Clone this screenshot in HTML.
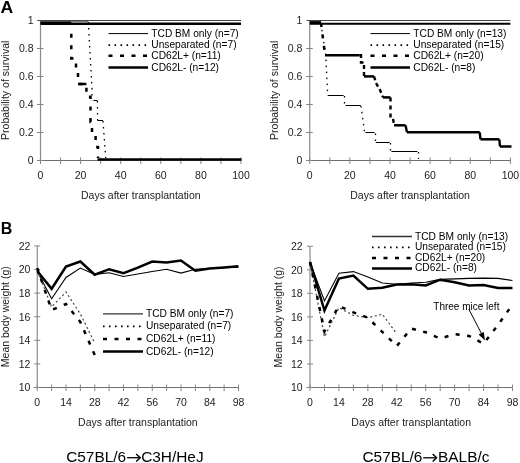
<!DOCTYPE html>
<html><head><meta charset="utf-8"><style>
html,body{margin:0;padding:0;background:#fff;}
svg{display:block;will-change:transform;}
text{font-family:"Liberation Sans", sans-serif;}
</style></head><body>
<svg width="520" height="463" viewBox="0 0 520 463">
<rect width="520" height="463" fill="#fff"/>
<line x1="40.50" y1="20.50" x2="40.50" y2="161.00" stroke="#8a8a8a" stroke-width="1.2" stroke-linecap="butt"/>
<line x1="37.00" y1="160.50" x2="241.00" y2="160.50" stroke="#707070" stroke-width="1" stroke-linecap="butt"/>
<line x1="37.00" y1="160.50" x2="43.50" y2="160.50" stroke="#858585" stroke-width="1" stroke-linecap="butt"/>
<text x="33.60" y="164.30" font-size="10.5" text-anchor="end" font-weight="normal" fill="#222">0</text>
<line x1="37.00" y1="132.50" x2="43.50" y2="132.50" stroke="#858585" stroke-width="1" stroke-linecap="butt"/>
<text x="33.60" y="136.30" font-size="10.5" text-anchor="end" font-weight="normal" fill="#222">0.2</text>
<line x1="37.00" y1="104.50" x2="43.50" y2="104.50" stroke="#858585" stroke-width="1" stroke-linecap="butt"/>
<text x="33.60" y="108.30" font-size="10.5" text-anchor="end" font-weight="normal" fill="#222">0.4</text>
<line x1="37.00" y1="76.50" x2="43.50" y2="76.50" stroke="#858585" stroke-width="1" stroke-linecap="butt"/>
<text x="33.60" y="80.30" font-size="10.5" text-anchor="end" font-weight="normal" fill="#222">0.6</text>
<line x1="37.00" y1="48.50" x2="43.50" y2="48.50" stroke="#858585" stroke-width="1" stroke-linecap="butt"/>
<text x="33.60" y="52.30" font-size="10.5" text-anchor="end" font-weight="normal" fill="#222">0.8</text>
<line x1="37.00" y1="20.50" x2="43.50" y2="20.50" stroke="#858585" stroke-width="1" stroke-linecap="butt"/>
<text x="33.60" y="24.30" font-size="10.5" text-anchor="end" font-weight="normal" fill="#222">1</text>
<line x1="40.50" y1="157.50" x2="40.50" y2="164.00" stroke="#858585" stroke-width="1" stroke-linecap="butt"/>
<text x="40.50" y="178.80" font-size="10.5" text-anchor="middle" font-weight="normal" fill="#222">0</text>
<line x1="60.55" y1="157.50" x2="60.55" y2="164.00" stroke="#858585" stroke-width="1" stroke-linecap="butt"/>
<line x1="80.60" y1="157.50" x2="80.60" y2="164.00" stroke="#858585" stroke-width="1" stroke-linecap="butt"/>
<text x="80.60" y="178.80" font-size="10.5" text-anchor="middle" font-weight="normal" fill="#222">20</text>
<line x1="100.65" y1="157.50" x2="100.65" y2="164.00" stroke="#858585" stroke-width="1" stroke-linecap="butt"/>
<line x1="120.70" y1="157.50" x2="120.70" y2="164.00" stroke="#858585" stroke-width="1" stroke-linecap="butt"/>
<text x="120.70" y="178.80" font-size="10.5" text-anchor="middle" font-weight="normal" fill="#222">40</text>
<line x1="140.75" y1="157.50" x2="140.75" y2="164.00" stroke="#858585" stroke-width="1" stroke-linecap="butt"/>
<line x1="160.80" y1="157.50" x2="160.80" y2="164.00" stroke="#858585" stroke-width="1" stroke-linecap="butt"/>
<text x="160.80" y="178.80" font-size="10.5" text-anchor="middle" font-weight="normal" fill="#222">60</text>
<line x1="180.85" y1="157.50" x2="180.85" y2="164.00" stroke="#858585" stroke-width="1" stroke-linecap="butt"/>
<line x1="200.90" y1="157.50" x2="200.90" y2="164.00" stroke="#858585" stroke-width="1" stroke-linecap="butt"/>
<text x="200.90" y="178.80" font-size="10.5" text-anchor="middle" font-weight="normal" fill="#222">80</text>
<line x1="220.95" y1="157.50" x2="220.95" y2="164.00" stroke="#858585" stroke-width="1" stroke-linecap="butt"/>
<line x1="241.00" y1="157.50" x2="241.00" y2="164.00" stroke="#858585" stroke-width="1" stroke-linecap="butt"/>
<text x="241.00" y="178.80" font-size="10.5" text-anchor="middle" font-weight="normal" fill="#222">100</text>
<text x="140.80" y="198.80" font-size="10.5" text-anchor="middle" font-weight="normal" fill="#222">Days after transplantation</text>
<text x="9.40" y="90.30" font-size="10.5" text-anchor="middle" font-weight="normal" fill="#222" transform="rotate(-90 9.40 90.30)">Probability of survival</text>
<line x1="108.50" y1="33.60" x2="148.00" y2="33.60" stroke="#000" stroke-width="1.0" stroke-linecap="butt"/>
<line x1="108.50" y1="45.10" x2="148.00" y2="45.10" stroke="#000" stroke-width="1.6" stroke-dasharray="1.6 4.4" stroke-linecap="butt"/>
<line x1="108.50" y1="55.80" x2="148.00" y2="55.80" stroke="#000" stroke-width="2.5" stroke-dasharray="4 7.5" stroke-linecap="butt"/>
<line x1="108.50" y1="67.50" x2="148.00" y2="67.50" stroke="#000" stroke-width="2.5" stroke-linecap="butt"/>
<text x="151.30" y="36.60" font-size="10.2" text-anchor="start" font-weight="normal" fill="#000">TCD BM only (n=7)</text>
<text x="151.30" y="48.10" font-size="10.2" text-anchor="start" font-weight="normal" fill="#000">Unseparated (n=7)</text>
<text x="151.30" y="58.80" font-size="10.2" text-anchor="start" font-weight="normal" fill="#000">CD62L+ (n=11)</text>
<text x="151.30" y="70.50" font-size="10.2" text-anchor="start" font-weight="normal" fill="#000">CD62L- (n=12)</text>
<line x1="309.75" y1="20.50" x2="309.75" y2="161.00" stroke="#8a8a8a" stroke-width="1.2" stroke-linecap="butt"/>
<line x1="306.25" y1="160.50" x2="510.40" y2="160.50" stroke="#707070" stroke-width="1" stroke-linecap="butt"/>
<line x1="306.25" y1="160.50" x2="312.75" y2="160.50" stroke="#858585" stroke-width="1" stroke-linecap="butt"/>
<text x="302.40" y="164.30" font-size="10.5" text-anchor="end" font-weight="normal" fill="#222">0</text>
<line x1="306.25" y1="132.50" x2="312.75" y2="132.50" stroke="#858585" stroke-width="1" stroke-linecap="butt"/>
<text x="302.40" y="136.30" font-size="10.5" text-anchor="end" font-weight="normal" fill="#222">0.2</text>
<line x1="306.25" y1="104.50" x2="312.75" y2="104.50" stroke="#858585" stroke-width="1" stroke-linecap="butt"/>
<text x="302.40" y="108.30" font-size="10.5" text-anchor="end" font-weight="normal" fill="#222">0.4</text>
<line x1="306.25" y1="76.50" x2="312.75" y2="76.50" stroke="#858585" stroke-width="1" stroke-linecap="butt"/>
<text x="302.40" y="80.30" font-size="10.5" text-anchor="end" font-weight="normal" fill="#222">0.6</text>
<line x1="306.25" y1="48.50" x2="312.75" y2="48.50" stroke="#858585" stroke-width="1" stroke-linecap="butt"/>
<text x="302.40" y="52.30" font-size="10.5" text-anchor="end" font-weight="normal" fill="#222">0.8</text>
<line x1="306.25" y1="20.50" x2="312.75" y2="20.50" stroke="#858585" stroke-width="1" stroke-linecap="butt"/>
<text x="302.40" y="24.30" font-size="10.5" text-anchor="end" font-weight="normal" fill="#222">1</text>
<line x1="309.75" y1="157.50" x2="309.75" y2="164.00" stroke="#858585" stroke-width="1" stroke-linecap="butt"/>
<text x="309.75" y="178.80" font-size="10.5" text-anchor="middle" font-weight="normal" fill="#222">0</text>
<line x1="329.81" y1="157.50" x2="329.81" y2="164.00" stroke="#858585" stroke-width="1" stroke-linecap="butt"/>
<line x1="349.88" y1="157.50" x2="349.88" y2="164.00" stroke="#858585" stroke-width="1" stroke-linecap="butt"/>
<text x="349.88" y="178.80" font-size="10.5" text-anchor="middle" font-weight="normal" fill="#222">20</text>
<line x1="369.94" y1="157.50" x2="369.94" y2="164.00" stroke="#858585" stroke-width="1" stroke-linecap="butt"/>
<line x1="390.01" y1="157.50" x2="390.01" y2="164.00" stroke="#858585" stroke-width="1" stroke-linecap="butt"/>
<text x="390.01" y="178.80" font-size="10.5" text-anchor="middle" font-weight="normal" fill="#222">40</text>
<line x1="410.07" y1="157.50" x2="410.07" y2="164.00" stroke="#858585" stroke-width="1" stroke-linecap="butt"/>
<line x1="430.14" y1="157.50" x2="430.14" y2="164.00" stroke="#858585" stroke-width="1" stroke-linecap="butt"/>
<text x="430.14" y="178.80" font-size="10.5" text-anchor="middle" font-weight="normal" fill="#222">60</text>
<line x1="450.20" y1="157.50" x2="450.20" y2="164.00" stroke="#858585" stroke-width="1" stroke-linecap="butt"/>
<line x1="470.27" y1="157.50" x2="470.27" y2="164.00" stroke="#858585" stroke-width="1" stroke-linecap="butt"/>
<text x="470.27" y="178.80" font-size="10.5" text-anchor="middle" font-weight="normal" fill="#222">80</text>
<line x1="490.34" y1="157.50" x2="490.34" y2="164.00" stroke="#858585" stroke-width="1" stroke-linecap="butt"/>
<line x1="510.40" y1="157.50" x2="510.40" y2="164.00" stroke="#858585" stroke-width="1" stroke-linecap="butt"/>
<text x="510.40" y="178.80" font-size="10.5" text-anchor="middle" font-weight="normal" fill="#222">100</text>
<text x="410.10" y="198.80" font-size="10.5" text-anchor="middle" font-weight="normal" fill="#222">Days after transplantation</text>
<text x="278.20" y="90.30" font-size="10.5" text-anchor="middle" font-weight="normal" fill="#222" transform="rotate(-90 278.20 90.30)">Probability of survival</text>
<line x1="370.50" y1="33.60" x2="410.00" y2="33.60" stroke="#000" stroke-width="1.0" stroke-linecap="butt"/>
<line x1="370.50" y1="45.10" x2="410.00" y2="45.10" stroke="#000" stroke-width="1.6" stroke-dasharray="1.6 4.4" stroke-linecap="butt"/>
<line x1="370.50" y1="55.80" x2="410.00" y2="55.80" stroke="#000" stroke-width="2.5" stroke-dasharray="4 7.5" stroke-linecap="butt"/>
<line x1="370.50" y1="67.50" x2="410.00" y2="67.50" stroke="#000" stroke-width="2.5" stroke-linecap="butt"/>
<text x="413.30" y="36.60" font-size="10.2" text-anchor="start" font-weight="normal" fill="#000">TCD BM only (n=13)</text>
<text x="413.30" y="48.10" font-size="10.2" text-anchor="start" font-weight="normal" fill="#000">Unseparated (n=15)</text>
<text x="413.30" y="58.80" font-size="10.2" text-anchor="start" font-weight="normal" fill="#000">CD62L+ (n=20)</text>
<text x="413.30" y="70.50" font-size="10.2" text-anchor="start" font-weight="normal" fill="#000">CD62L- (n=8)</text>
<line x1="38.00" y1="20.50" x2="241.00" y2="20.50" stroke="#444" stroke-width="1.0" stroke-linecap="butt"/>
<line x1="40.50" y1="23.80" x2="241.00" y2="23.80" stroke="#000" stroke-width="2.4" stroke-linecap="butt"/>
<line x1="40.50" y1="22.60" x2="71.30" y2="22.60" stroke="#000" stroke-width="2.6" stroke-linecap="butt"/>
<line x1="71.00" y1="21.60" x2="88.30" y2="21.60" stroke="#777" stroke-width="1" stroke-linecap="butt"/>
<polyline points="71.30,26.30 71.30,58.60 76.00,58.60 76.00,71.30 78.00,71.30 78.00,84.00 86.40,84.00 86.40,96.70 90.50,96.70 90.50,122.00 92.00,122.00 92.00,134.30 95.60,134.30 95.60,147.00 98.00,147.00 98.00,158.00" fill="none" stroke="#000" stroke-width="2.5" stroke-dasharray="4 7.5" stroke-dashoffset="-7.5" stroke-linejoin="miter" stroke-linecap="butt"/>
<line x1="78.00" y1="84.00" x2="86.40" y2="84.00" stroke="#000" stroke-width="2.5" stroke-linecap="butt"/>
<line x1="97.50" y1="159.50" x2="241.50" y2="159.50" stroke="#000" stroke-width="2.5" stroke-linecap="butt"/>
<polyline points="88.30,22.00 92.00,88.00 92.00,100.30" fill="none" stroke="#000" stroke-width="1.3" stroke-dasharray="1.5 4.5" stroke-linejoin="miter" stroke-linecap="butt"/>
<line x1="93.50" y1="100.50" x2="97.40" y2="100.50" stroke="#000" stroke-width="1" stroke-linecap="butt"/>
<polyline points="97.40,101.00 97.60,120.50" fill="none" stroke="#000" stroke-width="1.3" stroke-dasharray="1.5 4.5" stroke-linejoin="miter" stroke-linecap="butt"/>
<line x1="97.60" y1="120.50" x2="103.00" y2="120.50" stroke="#000" stroke-width="1" stroke-linecap="butt"/>
<polyline points="103.00,121.00 105.70,158.00" fill="none" stroke="#000" stroke-width="1.3" stroke-dasharray="1.5 4.5" stroke-linejoin="miter" stroke-linecap="butt"/>
<line x1="307.00" y1="20.50" x2="510.40" y2="20.50" stroke="#444" stroke-width="1.0" stroke-linecap="butt"/>
<line x1="309.75" y1="23.70" x2="510.40" y2="23.70" stroke="#000" stroke-width="2.1" stroke-linecap="butt"/>
<line x1="309.75" y1="22.60" x2="321.00" y2="22.60" stroke="#000" stroke-width="3.0" stroke-linecap="butt"/>
<polyline points="321.00,23.00 325.00,54.70" fill="none" stroke="#000" stroke-width="2.5" stroke-dasharray="4 7.5" stroke-linejoin="miter" stroke-linecap="butt"/>
<line x1="325.00" y1="55.20" x2="359.80" y2="55.20" stroke="#000" stroke-width="2.5" stroke-linecap="butt"/>
<polyline points="359.80,55.20 361.00,55.20 361.00,62.50 364.00,62.50 364.00,76.40" fill="none" stroke="#000" stroke-width="2.4" stroke-dasharray="4 3" stroke-linejoin="miter" stroke-linecap="butt"/>
<line x1="364.00" y1="76.40" x2="374.00" y2="76.40" stroke="#000" stroke-width="2.5" stroke-linecap="butt"/>
<polyline points="374.00,76.40 376.00,83.00 380.00,90.00 383.00,97.40" fill="none" stroke="#000" stroke-width="2.4" stroke-dasharray="4 3" stroke-linejoin="miter" stroke-linecap="butt"/>
<line x1="383.00" y1="97.40" x2="390.50" y2="97.40" stroke="#000" stroke-width="2.5" stroke-linecap="butt"/>
<polyline points="390.50,97.40 390.50,118.30 393.00,118.30 394.00,125.30" fill="none" stroke="#000" stroke-width="2.4" stroke-dasharray="4 4" stroke-linejoin="miter" stroke-linecap="butt"/>
<line x1="394.00" y1="125.30" x2="405.50" y2="125.30" stroke="#000" stroke-width="2.5" stroke-linecap="butt"/>
<line x1="405.50" y1="125.30" x2="407.00" y2="132.30" stroke="#000" stroke-width="2.4" stroke-linecap="butt"/>
<line x1="407.00" y1="132.30" x2="479.70" y2="132.30" stroke="#000" stroke-width="2.5" stroke-linecap="butt"/>
<line x1="479.70" y1="132.30" x2="480.50" y2="139.30" stroke="#000" stroke-width="2.4" stroke-linecap="butt"/>
<line x1="480.50" y1="139.30" x2="499.30" y2="139.30" stroke="#000" stroke-width="2.5" stroke-linecap="butt"/>
<line x1="499.30" y1="139.30" x2="500.00" y2="146.50" stroke="#000" stroke-width="2.4" stroke-linecap="butt"/>
<line x1="500.00" y1="146.50" x2="511.50" y2="146.50" stroke="#000" stroke-width="2.5" stroke-linecap="butt"/>
<polyline points="321.00,24.00 325.70,55.00 327.70,95.00" fill="none" stroke="#000" stroke-width="1.3" stroke-dasharray="1.5 4.5" stroke-linejoin="miter" stroke-linecap="butt"/>
<line x1="327.70" y1="95.50" x2="343.60" y2="95.50" stroke="#000" stroke-width="1" stroke-linecap="butt"/>
<polyline points="344.50,96.00 344.50,104.50" fill="none" stroke="#000" stroke-width="1.3" stroke-dasharray="1.5 4.5" stroke-linejoin="miter" stroke-linecap="butt"/>
<line x1="345.50" y1="105.50" x2="360.80" y2="105.50" stroke="#000" stroke-width="1" stroke-linecap="butt"/>
<polyline points="361.00,106.00 364.60,132.50" fill="none" stroke="#000" stroke-width="1.3" stroke-dasharray="1.5 4.5" stroke-linejoin="miter" stroke-linecap="butt"/>
<line x1="365.50" y1="132.50" x2="374.60" y2="132.50" stroke="#000" stroke-width="1" stroke-linecap="butt"/>
<polyline points="375.50,133.50 375.50,142.00" fill="none" stroke="#000" stroke-width="1.3" stroke-dasharray="1.5 4.5" stroke-linejoin="miter" stroke-linecap="butt"/>
<line x1="375.80" y1="142.50" x2="389.70" y2="142.50" stroke="#000" stroke-width="1" stroke-linecap="butt"/>
<polyline points="390.50,143.00 390.50,151.00" fill="none" stroke="#000" stroke-width="1.3" stroke-dasharray="1.5 4.5" stroke-linejoin="miter" stroke-linecap="butt"/>
<line x1="391.40" y1="151.50" x2="417.40" y2="151.50" stroke="#000" stroke-width="1" stroke-linecap="butt"/>
<polyline points="418.50,152.00 418.50,159.00" fill="none" stroke="#000" stroke-width="1.3" stroke-dasharray="1.5 4.5" stroke-linejoin="miter" stroke-linecap="butt"/>
<line x1="37.25" y1="245.90" x2="37.25" y2="388.00" stroke="#8a8a8a" stroke-width="1.2" stroke-linecap="butt"/>
<line x1="33.75" y1="387.50" x2="238.50" y2="387.50" stroke="#707070" stroke-width="1" stroke-linecap="butt"/>
<line x1="34.25" y1="387.50" x2="40.25" y2="387.50" stroke="#858585" stroke-width="1" stroke-linecap="butt"/>
<text x="30.40" y="391.30" font-size="10.5" text-anchor="end" font-weight="normal" fill="#222">10</text>
<line x1="34.25" y1="363.90" x2="40.25" y2="363.90" stroke="#858585" stroke-width="1" stroke-linecap="butt"/>
<text x="30.40" y="367.70" font-size="10.5" text-anchor="end" font-weight="normal" fill="#222">12</text>
<line x1="34.25" y1="340.30" x2="40.25" y2="340.30" stroke="#858585" stroke-width="1" stroke-linecap="butt"/>
<text x="30.40" y="344.10" font-size="10.5" text-anchor="end" font-weight="normal" fill="#222">14</text>
<line x1="34.25" y1="316.70" x2="40.25" y2="316.70" stroke="#858585" stroke-width="1" stroke-linecap="butt"/>
<text x="30.40" y="320.50" font-size="10.5" text-anchor="end" font-weight="normal" fill="#222">16</text>
<line x1="34.25" y1="293.10" x2="40.25" y2="293.10" stroke="#858585" stroke-width="1" stroke-linecap="butt"/>
<text x="30.40" y="296.90" font-size="10.5" text-anchor="end" font-weight="normal" fill="#222">18</text>
<line x1="34.25" y1="269.50" x2="40.25" y2="269.50" stroke="#858585" stroke-width="1" stroke-linecap="butt"/>
<text x="30.40" y="273.30" font-size="10.5" text-anchor="end" font-weight="normal" fill="#222">20</text>
<line x1="34.25" y1="245.90" x2="40.25" y2="245.90" stroke="#858585" stroke-width="1" stroke-linecap="butt"/>
<text x="30.40" y="249.70" font-size="10.5" text-anchor="end" font-weight="normal" fill="#222">22</text>
<line x1="37.25" y1="384.50" x2="37.25" y2="391.00" stroke="#858585" stroke-width="1" stroke-linecap="butt"/>
<text x="37.25" y="405.90" font-size="10.5" text-anchor="middle" font-weight="normal" fill="#222">0</text>
<line x1="51.62" y1="384.50" x2="51.62" y2="391.00" stroke="#858585" stroke-width="1" stroke-linecap="butt"/>
<line x1="66.00" y1="384.50" x2="66.00" y2="391.00" stroke="#858585" stroke-width="1" stroke-linecap="butt"/>
<text x="66.00" y="405.90" font-size="10.5" text-anchor="middle" font-weight="normal" fill="#222">14</text>
<line x1="80.38" y1="384.50" x2="80.38" y2="391.00" stroke="#858585" stroke-width="1" stroke-linecap="butt"/>
<line x1="94.75" y1="384.50" x2="94.75" y2="391.00" stroke="#858585" stroke-width="1" stroke-linecap="butt"/>
<text x="94.75" y="405.90" font-size="10.5" text-anchor="middle" font-weight="normal" fill="#222">28</text>
<line x1="109.12" y1="384.50" x2="109.12" y2="391.00" stroke="#858585" stroke-width="1" stroke-linecap="butt"/>
<line x1="123.50" y1="384.50" x2="123.50" y2="391.00" stroke="#858585" stroke-width="1" stroke-linecap="butt"/>
<text x="123.50" y="405.90" font-size="10.5" text-anchor="middle" font-weight="normal" fill="#222">42</text>
<line x1="137.88" y1="384.50" x2="137.88" y2="391.00" stroke="#858585" stroke-width="1" stroke-linecap="butt"/>
<line x1="152.25" y1="384.50" x2="152.25" y2="391.00" stroke="#858585" stroke-width="1" stroke-linecap="butt"/>
<text x="152.25" y="405.90" font-size="10.5" text-anchor="middle" font-weight="normal" fill="#222">56</text>
<line x1="166.62" y1="384.50" x2="166.62" y2="391.00" stroke="#858585" stroke-width="1" stroke-linecap="butt"/>
<line x1="181.00" y1="384.50" x2="181.00" y2="391.00" stroke="#858585" stroke-width="1" stroke-linecap="butt"/>
<text x="181.00" y="405.90" font-size="10.5" text-anchor="middle" font-weight="normal" fill="#222">70</text>
<line x1="195.37" y1="384.50" x2="195.37" y2="391.00" stroke="#858585" stroke-width="1" stroke-linecap="butt"/>
<line x1="209.75" y1="384.50" x2="209.75" y2="391.00" stroke="#858585" stroke-width="1" stroke-linecap="butt"/>
<text x="209.75" y="405.90" font-size="10.5" text-anchor="middle" font-weight="normal" fill="#222">84</text>
<line x1="224.12" y1="384.50" x2="224.12" y2="391.00" stroke="#858585" stroke-width="1" stroke-linecap="butt"/>
<line x1="238.50" y1="384.50" x2="238.50" y2="391.00" stroke="#858585" stroke-width="1" stroke-linecap="butt"/>
<text x="238.50" y="405.90" font-size="10.5" text-anchor="middle" font-weight="normal" fill="#222">98</text>
<text x="137.90" y="425.90" font-size="10.5" text-anchor="middle" font-weight="normal" fill="#222">Days after transplantation</text>
<text x="9.00" y="316.70" font-size="10.5" text-anchor="middle" font-weight="normal" fill="#222" transform="rotate(-90 9.00 316.70)">Mean body weight (g)</text>
<line x1="103.00" y1="313.80" x2="143.00" y2="313.80" stroke="#333" stroke-width="1.3" stroke-linecap="butt"/>
<line x1="103.00" y1="326.40" x2="143.00" y2="326.40" stroke="#000" stroke-width="1.6" stroke-dasharray="1.6 4.4" stroke-linecap="butt"/>
<line x1="103.00" y1="339.00" x2="143.00" y2="339.00" stroke="#000" stroke-width="2.5" stroke-dasharray="4 7.5" stroke-linecap="butt"/>
<line x1="103.00" y1="351.60" x2="143.00" y2="351.60" stroke="#000" stroke-width="2.5" stroke-linecap="butt"/>
<text x="146.00" y="316.80" font-size="10.2" text-anchor="start" font-weight="normal" fill="#000">TCD BM only (n=7)</text>
<text x="146.00" y="329.40" font-size="10.2" text-anchor="start" font-weight="normal" fill="#000">Unseparated (n=7)</text>
<text x="146.00" y="342.00" font-size="10.2" text-anchor="start" font-weight="normal" fill="#000">CD62L+ (n=11)</text>
<text x="146.00" y="354.60" font-size="10.2" text-anchor="start" font-weight="normal" fill="#000">CD62L- (n=12)</text>
<line x1="310.00" y1="246.25" x2="310.00" y2="388.00" stroke="#8a8a8a" stroke-width="1.2" stroke-linecap="butt"/>
<line x1="306.50" y1="387.50" x2="512.50" y2="387.50" stroke="#707070" stroke-width="1" stroke-linecap="butt"/>
<line x1="307.00" y1="387.50" x2="313.00" y2="387.50" stroke="#858585" stroke-width="1" stroke-linecap="butt"/>
<text x="302.60" y="391.30" font-size="10.5" text-anchor="end" font-weight="normal" fill="#222">10</text>
<line x1="307.00" y1="363.96" x2="313.00" y2="363.96" stroke="#858585" stroke-width="1" stroke-linecap="butt"/>
<text x="302.60" y="367.76" font-size="10.5" text-anchor="end" font-weight="normal" fill="#222">12</text>
<line x1="307.00" y1="340.42" x2="313.00" y2="340.42" stroke="#858585" stroke-width="1" stroke-linecap="butt"/>
<text x="302.60" y="344.22" font-size="10.5" text-anchor="end" font-weight="normal" fill="#222">14</text>
<line x1="307.00" y1="316.88" x2="313.00" y2="316.88" stroke="#858585" stroke-width="1" stroke-linecap="butt"/>
<text x="302.60" y="320.68" font-size="10.5" text-anchor="end" font-weight="normal" fill="#222">16</text>
<line x1="307.00" y1="293.33" x2="313.00" y2="293.33" stroke="#858585" stroke-width="1" stroke-linecap="butt"/>
<text x="302.60" y="297.13" font-size="10.5" text-anchor="end" font-weight="normal" fill="#222">18</text>
<line x1="307.00" y1="269.79" x2="313.00" y2="269.79" stroke="#858585" stroke-width="1" stroke-linecap="butt"/>
<text x="302.60" y="273.59" font-size="10.5" text-anchor="end" font-weight="normal" fill="#222">20</text>
<line x1="307.00" y1="246.25" x2="313.00" y2="246.25" stroke="#858585" stroke-width="1" stroke-linecap="butt"/>
<text x="302.60" y="250.05" font-size="10.5" text-anchor="end" font-weight="normal" fill="#222">22</text>
<line x1="310.00" y1="384.50" x2="310.00" y2="391.00" stroke="#858585" stroke-width="1" stroke-linecap="butt"/>
<text x="310.00" y="405.90" font-size="10.5" text-anchor="middle" font-weight="normal" fill="#222">0</text>
<line x1="324.46" y1="384.50" x2="324.46" y2="391.00" stroke="#858585" stroke-width="1" stroke-linecap="butt"/>
<line x1="338.93" y1="384.50" x2="338.93" y2="391.00" stroke="#858585" stroke-width="1" stroke-linecap="butt"/>
<text x="338.93" y="405.90" font-size="10.5" text-anchor="middle" font-weight="normal" fill="#222">14</text>
<line x1="353.39" y1="384.50" x2="353.39" y2="391.00" stroke="#858585" stroke-width="1" stroke-linecap="butt"/>
<line x1="367.86" y1="384.50" x2="367.86" y2="391.00" stroke="#858585" stroke-width="1" stroke-linecap="butt"/>
<text x="367.86" y="405.90" font-size="10.5" text-anchor="middle" font-weight="normal" fill="#222">28</text>
<line x1="382.32" y1="384.50" x2="382.32" y2="391.00" stroke="#858585" stroke-width="1" stroke-linecap="butt"/>
<line x1="396.79" y1="384.50" x2="396.79" y2="391.00" stroke="#858585" stroke-width="1" stroke-linecap="butt"/>
<text x="396.79" y="405.90" font-size="10.5" text-anchor="middle" font-weight="normal" fill="#222">42</text>
<line x1="411.25" y1="384.50" x2="411.25" y2="391.00" stroke="#858585" stroke-width="1" stroke-linecap="butt"/>
<line x1="425.71" y1="384.50" x2="425.71" y2="391.00" stroke="#858585" stroke-width="1" stroke-linecap="butt"/>
<text x="425.71" y="405.90" font-size="10.5" text-anchor="middle" font-weight="normal" fill="#222">56</text>
<line x1="440.18" y1="384.50" x2="440.18" y2="391.00" stroke="#858585" stroke-width="1" stroke-linecap="butt"/>
<line x1="454.64" y1="384.50" x2="454.64" y2="391.00" stroke="#858585" stroke-width="1" stroke-linecap="butt"/>
<text x="454.64" y="405.90" font-size="10.5" text-anchor="middle" font-weight="normal" fill="#222">70</text>
<line x1="469.11" y1="384.50" x2="469.11" y2="391.00" stroke="#858585" stroke-width="1" stroke-linecap="butt"/>
<line x1="483.57" y1="384.50" x2="483.57" y2="391.00" stroke="#858585" stroke-width="1" stroke-linecap="butt"/>
<text x="483.57" y="405.90" font-size="10.5" text-anchor="middle" font-weight="normal" fill="#222">84</text>
<line x1="498.04" y1="384.50" x2="498.04" y2="391.00" stroke="#858585" stroke-width="1" stroke-linecap="butt"/>
<line x1="512.50" y1="384.50" x2="512.50" y2="391.00" stroke="#858585" stroke-width="1" stroke-linecap="butt"/>
<text x="512.50" y="405.90" font-size="10.5" text-anchor="middle" font-weight="normal" fill="#222">98</text>
<text x="411.20" y="425.90" font-size="10.5" text-anchor="middle" font-weight="normal" fill="#222">Days after transplantation</text>
<text x="281.60" y="316.88" font-size="10.5" text-anchor="middle" font-weight="normal" fill="#222" transform="rotate(-90 281.60 316.88)">Mean body weight (g)</text>
<line x1="372.00" y1="236.50" x2="412.00" y2="236.50" stroke="#333" stroke-width="1.3" stroke-linecap="butt"/>
<line x1="372.00" y1="247.40" x2="412.00" y2="247.40" stroke="#000" stroke-width="1.6" stroke-dasharray="1.6 4.4" stroke-linecap="butt"/>
<line x1="372.00" y1="257.90" x2="412.00" y2="257.90" stroke="#000" stroke-width="2.5" stroke-dasharray="4 7.5" stroke-linecap="butt"/>
<line x1="372.00" y1="268.40" x2="412.00" y2="268.40" stroke="#000" stroke-width="2.5" stroke-linecap="butt"/>
<text x="415.00" y="239.50" font-size="10.2" text-anchor="start" font-weight="normal" fill="#000">TCD BM only (n=13)</text>
<text x="415.00" y="250.40" font-size="10.2" text-anchor="start" font-weight="normal" fill="#000">Unseparated (n=15)</text>
<text x="415.00" y="260.90" font-size="10.2" text-anchor="start" font-weight="normal" fill="#000">CD62L+ (n=20)</text>
<text x="415.00" y="271.40" font-size="10.2" text-anchor="start" font-weight="normal" fill="#000">CD62L- (n=8)</text>
<polyline points="37.25,271.50 51.62,298.75 65.99,277.50 80.36,268.10 94.73,274.40 109.11,272.70 123.48,276.50 137.85,274.00 152.22,271.50 166.59,269.20 180.96,273.10 195.33,269.20 209.70,268.20 224.07,267.70 238.44,267.20" fill="none" stroke="#000" stroke-width="1.1" stroke-linejoin="miter" stroke-linecap="butt"/>
<polyline points="37.25,271.00 51.62,288.75 65.99,266.50 80.36,261.50 94.73,274.70 109.11,269.20 123.48,273.10 137.85,267.70 152.22,261.50 166.59,262.50 180.96,260.50 195.33,270.80 209.70,268.50 224.07,267.40 238.44,266.20" fill="none" stroke="#000" stroke-width="2.5" stroke-linejoin="miter" stroke-linecap="butt"/>
<polyline points="37.25,270.00 51.62,307.00 65.99,292.00 80.36,314.00 94.73,343.00" fill="none" stroke="#444" stroke-width="1.2" stroke-dasharray="2 2.6" stroke-linejoin="miter" stroke-linecap="butt"/>
<polyline points="37.25,268.00 51.62,310.00 65.99,304.00 80.36,322.00 94.73,355.00" fill="none" stroke="#000" stroke-width="2.5" stroke-dasharray="4 7.5" stroke-linejoin="miter" stroke-linecap="butt"/>
<polyline points="310.00,262.00 324.46,301.00 338.92,273.30 353.39,271.60 367.85,277.00 382.31,283.00 396.77,284.20 411.23,283.00 425.70,282.30 440.16,279.40 454.62,278.90 469.08,278.40 483.54,278.10 498.01,278.40 512.47,280.50" fill="none" stroke="#000" stroke-width="1.1" stroke-linejoin="miter" stroke-linecap="butt"/>
<polyline points="310.00,262.00 324.46,310.50 338.92,278.50 353.39,275.60 367.85,288.80 382.31,287.70 396.77,284.60 411.23,284.20 425.70,285.40 440.16,279.70 454.62,282.20 469.08,285.40 483.54,285.00 498.01,287.90 512.47,287.90" fill="none" stroke="#000" stroke-width="2.5" stroke-linejoin="miter" stroke-linecap="butt"/>
<polyline points="310.00,262.00 324.46,337.00 338.92,307.70 353.39,315.40 367.85,317.70 382.31,314.20 396.77,333.80" fill="none" stroke="#444" stroke-width="1.2" stroke-dasharray="2 2.6" stroke-linejoin="miter" stroke-linecap="butt"/>
<polyline points="310.00,262.00 324.46,331.50 338.92,306.00 353.39,312.30 367.85,317.70 396.77,346.00 411.23,328.50 425.70,332.30 440.16,338.50 454.62,334.20 469.08,336.00 483.54,343.70 498.01,325.00 512.47,304.50" fill="none" stroke="#000" stroke-width="2.5" stroke-dasharray="4 7.5" stroke-linejoin="miter" stroke-linecap="butt"/>
<text x="433.30" y="309.70" font-size="10" text-anchor="start" font-weight="normal" fill="#000">Three mice left</text>
<line x1="468.90" y1="309.30" x2="482.00" y2="334.60" stroke="#000" stroke-width="1" stroke-linecap="butt"/>
<polygon points="484.9,340.4 478.6,334.6 483.8,332" fill="#000"/>
<text x="0" y="12.6" font-size="16" font-weight="bold" transform="translate(0.5 0) scale(1.1 1)">A</text>
<text x="0.80" y="234.40" font-size="16" text-anchor="start" font-weight="bold" fill="#000">B</text>
<text x="66.20" y="461.60" font-size="15.4" text-anchor="start" font-weight="normal" fill="#000">C57BL/6</text>
<text x="141.20" y="461.60" font-size="15.4" text-anchor="start" font-weight="normal" fill="#000">C3H/HeJ</text>
<text x="362.50" y="461.60" font-size="15.4" text-anchor="start" font-weight="normal" fill="#000">C57BL/6</text>
<text x="438.10" y="461.60" font-size="15.4" text-anchor="start" font-weight="normal" fill="#000">BALB/c</text>
<line x1="127.10" y1="457.70" x2="139.30" y2="457.70" stroke="#000" stroke-width="1.3" stroke-linecap="butt"/>
<polyline points="136.10,453.90 140.30,457.70 136.10,461.50" fill="none" stroke="#000" stroke-width="1.4" stroke-linejoin="miter"/>
<line x1="423.20" y1="457.80" x2="435.60" y2="457.80" stroke="#000" stroke-width="1.3" stroke-linecap="butt"/>
<polyline points="432.70,454.00 436.60,457.80 432.70,461.60" fill="none" stroke="#000" stroke-width="1.4" stroke-linejoin="miter"/>
</svg>
</body></html>
